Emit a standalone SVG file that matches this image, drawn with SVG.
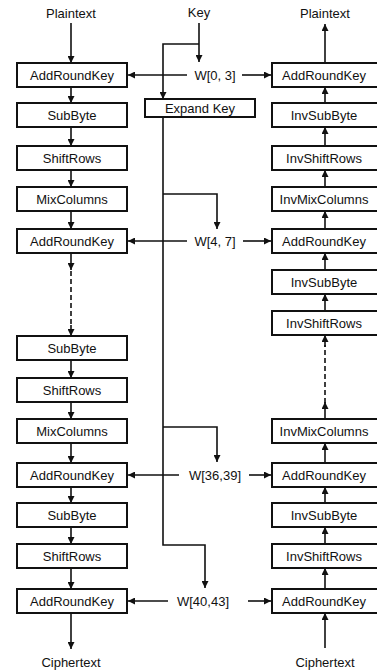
<svg xmlns="http://www.w3.org/2000/svg" width="377" height="671" viewBox="0 0 377 671">
<defs>
<marker id="ah" viewBox="0 0 10 10" refX="10" refY="5" markerWidth="7" markerHeight="7" markerUnits="userSpaceOnUse" orient="auto">
<path d="M0,0 L10,5 L0,10 z" fill="#111"/>
</marker>
<style>
.box{fill:#fff;stroke:#111;stroke-width:2}
.t{font-family:"Liberation Sans",Arial,sans-serif;font-size:13px;fill:#111;text-anchor:middle}
.c line,.c polyline{stroke:#111;stroke-width:1.6;fill:none}
.a{marker-end:url(#ah)}
.d{stroke-dasharray:5,3}
</style>
</defs>
<rect width="377" height="671" fill="#fff"/>

<g id="labels">
<text class="t" x="71" y="18">Plaintext</text>
<text class="t" x="199" y="17">Key</text>
<text class="t" x="325" y="18">Plaintext</text>
<text class="t" x="71" y="667">Ciphertext</text>
<text class="t" x="325" y="667">Ciphertext</text>
<text class="t" x="215" y="79.5">W[0, 3]</text>
<text class="t" x="215" y="245.5">W[4, 7]</text>
<text class="t" x="215" y="479.5">W[36,39]</text>
<text class="t" x="203" y="605.5">W[40,43]</text>
</g>

<g class="c" id="connectors">
<!-- left column -->
<line class="a" x1="71" y1="23" x2="71" y2="63"/>
<line class="a" x1="71" y1="87" x2="71" y2="103"/>
<line class="a" x1="71" y1="127" x2="71" y2="146"/>
<line class="a" x1="71" y1="170" x2="71" y2="187"/>
<line class="a" x1="71" y1="211" x2="71" y2="229"/>
<line class="a" x1="71" y1="253" x2="71" y2="270"/>
<line class="d" x1="71" y1="271" x2="71" y2="327"/>
<line class="a" x1="71" y1="325" x2="71" y2="336"/>
<line class="a" x1="71" y1="360" x2="71" y2="378"/>
<line class="a" x1="71" y1="402" x2="71" y2="419"/>
<line class="a" x1="71" y1="443" x2="71" y2="463"/>
<line class="a" x1="71" y1="487" x2="71" y2="503"/>
<line class="a" x1="71" y1="527" x2="71" y2="544"/>
<line class="a" x1="71" y1="568" x2="71" y2="589"/>
<line class="a" x1="71" y1="613" x2="71" y2="649"/>
<!-- right column -->
<line class="a" x1="325" y1="63" x2="325" y2="24"/>
<line class="a" x1="325" y1="103" x2="325" y2="87"/>
<line class="a" x1="325" y1="146" x2="325" y2="127"/>
<line class="a" x1="325" y1="187" x2="325" y2="170"/>
<line class="a" x1="325" y1="229" x2="325" y2="211"/>
<line class="a" x1="325" y1="270" x2="325" y2="253"/>
<line class="a" x1="325" y1="311" x2="325" y2="294"/>
<line class="a" x1="325" y1="419" x2="325" y2="402"/>
<line class="d" x1="325" y1="403" x2="325" y2="345"/>
<line class="a" x1="325" y1="347" x2="325" y2="335"/>
<line class="a" x1="325" y1="463" x2="325" y2="443"/>
<line class="a" x1="325" y1="503" x2="325" y2="487"/>
<line class="a" x1="325" y1="544" x2="325" y2="527"/>
<line class="a" x1="325" y1="589" x2="325" y2="568"/>
<line class="a" x1="325" y1="648" x2="325" y2="613"/>
<!-- key schedule -->
<line class="a" x1="199" y1="23" x2="199" y2="62"/>
<polyline class="a" points="199,44 163,44 163,99"/>
<polyline class="a" points="163,117 163,545 205,545 205,588"/>
<polyline class="a" points="163,194 217,194 217,229"/>
<polyline class="a" points="163,427 217,427 217,462"/>
<!-- round keys -->
<line class="a" x1="187" y1="75" x2="128" y2="75"/>
<line class="a" x1="242" y1="75" x2="271" y2="75"/>
<line class="a" x1="187" y1="241" x2="128" y2="241"/>
<line class="a" x1="243" y1="241" x2="271" y2="241"/>
<line class="a" x1="179" y1="475" x2="128" y2="475"/>
<line class="a" x1="249" y1="475" x2="271" y2="475"/>
<line class="a" x1="168" y1="601" x2="128" y2="601"/>
<line class="a" x1="248" y1="601" x2="271" y2="601"/>
</g>

<g id="expand"><rect class="box" x="145" y="99" width="110" height="18"/><text class="t" x="200" y="112.5">Expand Key</text></g>

<g id="L1"><rect class="box" x="17" y="63" width="110" height="24"/><text class="t" x="72" y="79.5">AddRoundKey</text></g>
<g id="L2"><rect class="box" x="17" y="103" width="110" height="24"/><text class="t" x="72" y="119.5">SubByte</text></g>
<g id="L3"><rect class="box" x="17" y="146" width="110" height="24"/><text class="t" x="72" y="162.5">ShiftRows</text></g>
<g id="L4"><rect class="box" x="17" y="187" width="110" height="24"/><text class="t" x="72" y="203.5">MixColumns</text></g>
<g id="L5"><rect class="box" x="17" y="229" width="110" height="24"/><text class="t" x="72" y="245.5">AddRoundKey</text></g>
<g id="L6"><rect class="box" x="17" y="336" width="110" height="24"/><text class="t" x="72" y="352.5">SubByte</text></g>
<g id="L7"><rect class="box" x="17" y="378" width="110" height="24"/><text class="t" x="72" y="394.5">ShiftRows</text></g>
<g id="L8"><rect class="box" x="17" y="419" width="110" height="24"/><text class="t" x="72" y="435.5">MixColumns</text></g>
<g id="L9"><rect class="box" x="17" y="463" width="110" height="24"/><text class="t" x="72" y="479.5">AddRoundKey</text></g>
<g id="L10"><rect class="box" x="17" y="503" width="110" height="24"/><text class="t" x="72" y="519.5">SubByte</text></g>
<g id="L11"><rect class="box" x="17" y="544" width="110" height="24"/><text class="t" x="72" y="560.5">ShiftRows</text></g>
<g id="L12"><rect class="box" x="17" y="589" width="110" height="24"/><text class="t" x="72" y="605.5">AddRoundKey</text></g>

<g id="R1"><rect class="box" x="272" y="63" width="110" height="24"/><text class="t" x="324" y="79.5">AddRoundKey</text></g>
<g id="R2"><rect class="box" x="272" y="103" width="110" height="24"/><text class="t" x="324" y="119.5">InvSubByte</text></g>
<g id="R3"><rect class="box" x="272" y="146" width="110" height="24"/><text class="t" x="324" y="162.5">InvShiftRows</text></g>
<g id="R4"><rect class="box" x="272" y="187" width="110" height="24"/><text class="t" x="324" y="203.5">InvMixColumns</text></g>
<g id="R5"><rect class="box" x="272" y="229" width="110" height="24"/><text class="t" x="324" y="245.5">AddRoundKey</text></g>
<g id="R6"><rect class="box" x="272" y="270" width="110" height="24"/><text class="t" x="324" y="286.5">InvSubByte</text></g>
<g id="R7"><rect class="box" x="272" y="311" width="110" height="24"/><text class="t" x="324" y="327.5">InvShiftRows</text></g>
<g id="R8"><rect class="box" x="272" y="419" width="110" height="24"/><text class="t" x="324" y="435.5">InvMixColumns</text></g>
<g id="R9"><rect class="box" x="272" y="463" width="110" height="24"/><text class="t" x="324" y="479.5">AddRoundKey</text></g>
<g id="R10"><rect class="box" x="272" y="503" width="110" height="24"/><text class="t" x="324" y="519.5">InvSubByte</text></g>
<g id="R11"><rect class="box" x="272" y="544" width="110" height="24"/><text class="t" x="324" y="560.5">InvShiftRows</text></g>
<g id="R12"><rect class="box" x="272" y="589" width="110" height="24"/><text class="t" x="324" y="605.5">AddRoundKey</text></g>
</svg>
